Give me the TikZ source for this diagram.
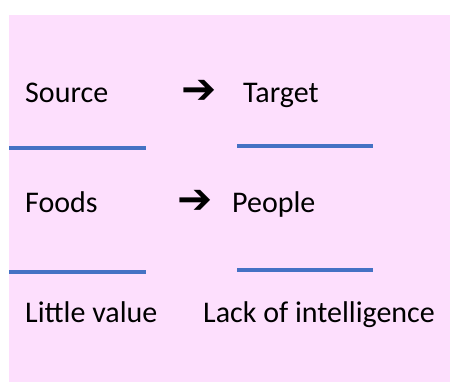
\documentclass[tikz,border=0pt]{standalone}
\usepackage{fontspec}
\setmainfont{Carlito}
\newfontfamily\arrowfont{DejaVu Sans}
\usepackage{xcolor}
\usepackage{tikz}
\usetikzlibrary{positioning}

\definecolor{pinkbg}{RGB}{253,223,253}
\definecolor{lineblue}{RGB}{68,114,196}

\begin{document}
\begin{tikzpicture}[x=1pt,y=-1pt,
    word/.style={anchor=base west,inner sep=0pt,font=\fontsize{30}{36}\selectfont},
    arrowsign/.style={inner sep=0pt,font=\arrowfont\fontsize{42}{48}\selectfont},
    blueline/.style={draw=lineblue,line width=3.5pt}]
    % Background
    \useasboundingbox (0,0) rectangle (450,382);
    \fill[pinkbg] (9,15) rectangle (450,382);
    
    % First row
    \node[word] (source) at (25,103) {Source};
    \node[arrowsign] (arrowA) at (199,91.5) {➔};
    \node[word] (target) at (243,103) {Target};
    
    % Lines under first row
    \draw[blueline] (9,148) -- (146,148);
    \draw[blueline] (237,146) -- (373,146);
    
    % Second row
    \node[word] (foods) at (25,213) {Foods};
    \node[arrowsign] (arrowB) at (195,202) {➔};
    \node[word] (people) at (232,213) {People};
    
    % Lines under second row
    \draw[blueline] (9,272) -- (146,272);
    \draw[blueline] (237,270) -- (373,270);
    
    % Third row
    \node[word] (value) at (25,323) {Little value};
    \node[word] (lack) at (203,323) {Lack of intelligence};
\end{tikzpicture}
\end{document}
